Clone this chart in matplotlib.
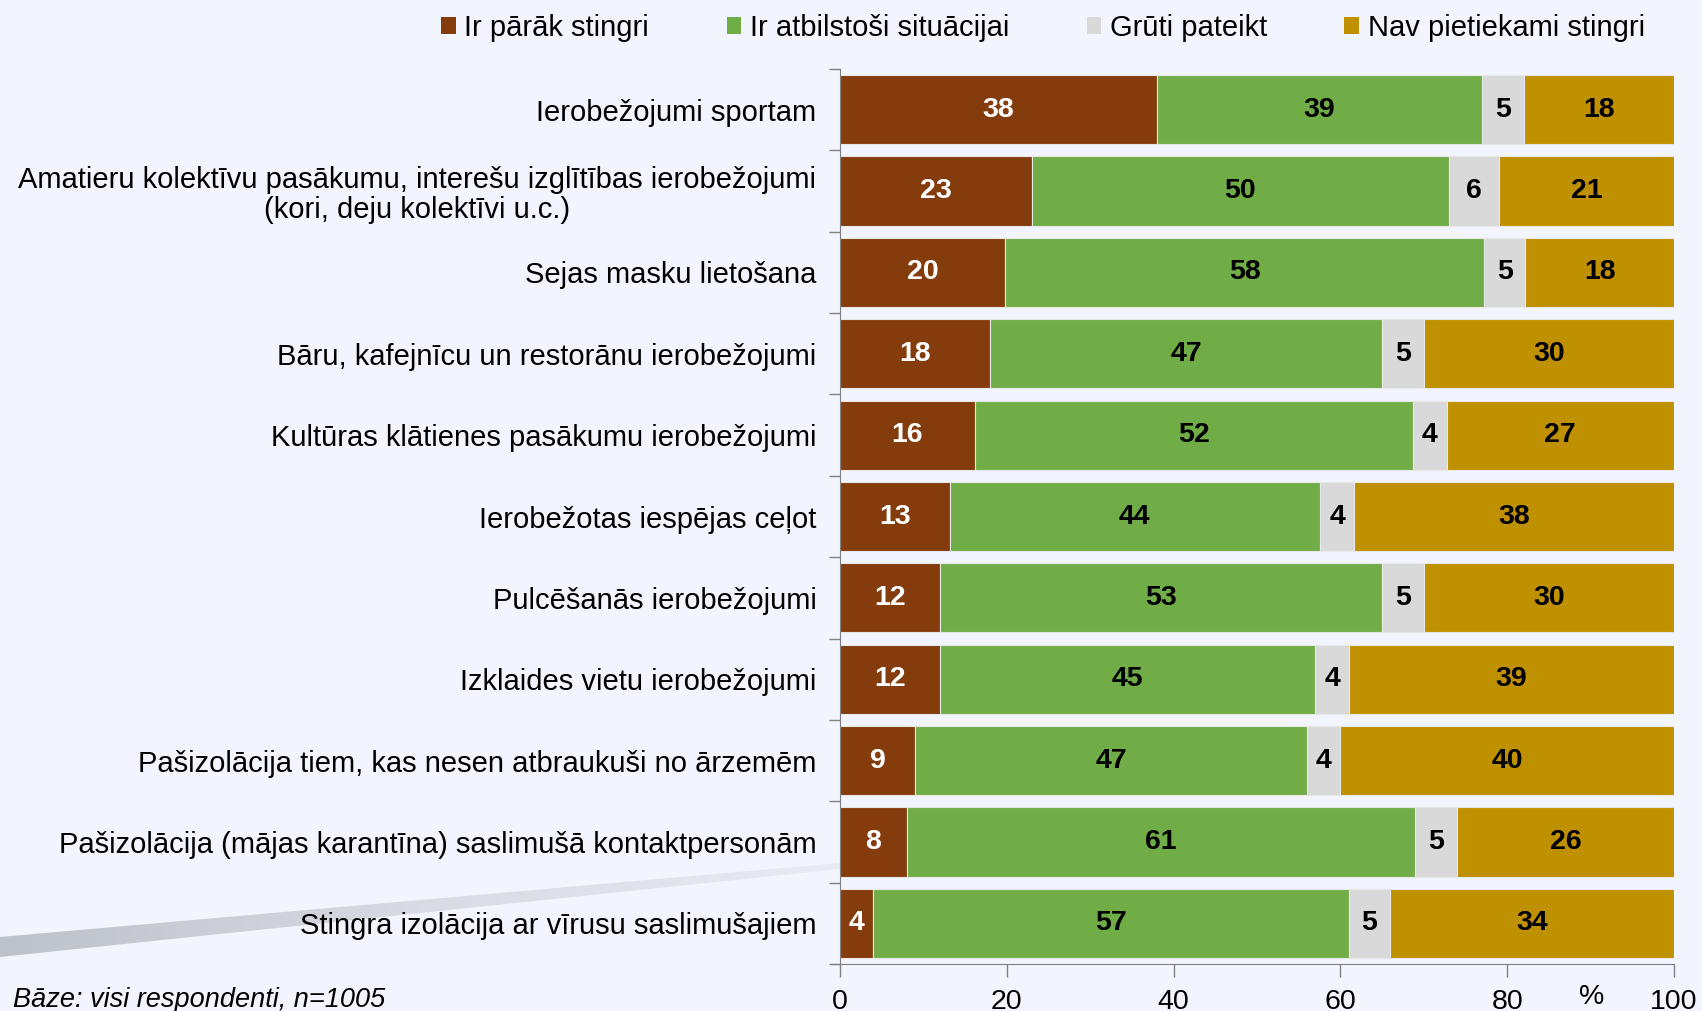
import numpy as np
import matplotlib
matplotlib.use("Agg")
import matplotlib.pyplot as plt
from matplotlib.patches import Rectangle, Polygon
from matplotlib.colors import LinearSegmentedColormap

plt.rcParams['font.family'] = ['Liberation Sans', 'DejaVu Sans']

categories = [
    "Ierobežojumi sportam",
    "Amatieru kolektīvu pasākumu, interešu izglītības ierobežojumi\n(kori, deju kolektīvi u.c.)",
    "Sejas masku lietošana",
    "Bāru, kafejnīcu un restorānu ierobežojumi",
    "Kultūras klātienes pasākumu ierobežojumi",
    "Ierobežotas iespējas ceļot",
    "Pulcēšanās ierobežojumi",
    "Izklaides vietu ierobežojumi",
    "Pašizolācija tiem, kas nesen atbraukuši no ārzemēm",
    "Pašizolācija (mājas karantīna) saslimušā kontaktpersonām",
    "Stingra izolācija ar vīrusu saslimušajiem",
]
too_strict = [38, 23, 20, 18, 16, 13, 12, 12, 9, 8, 4]
appropriate = [39, 50, 58, 47, 52, 44, 53, 45, 47, 61, 57]
hard_to_say = [5, 6, 5, 5, 4, 4, 5, 4, 4, 5, 5]
not_strict = [18, 21, 18, 30, 27, 38, 30, 39, 40, 26, 34]
series_names = ["Ir pārāk stingri", "Ir atbilstoši situācijai", "Grūti pateikt", "Nav pietiekami stingri"]
xticks = [0, 20, 40, 60, 80, 100]

colors = ["#843C0C", "#70AD47", "#D9D9D9", "#BF9000"]
text_colors = ["white", "black", "black", "black"]
bg = "#F2F5FE"

W, H = 1702, 1011
fig = plt.figure(figsize=(W / 100, H / 100), dpi=100)
fig.patch.set_facecolor(bg)

# decorative grey swoosh behind the labels
bgax = fig.add_axes([0, 0, 1, 1], zorder=0)
bgax.set_xlim(0, W)
bgax.set_ylim(H, 0)
bgax.axis("off")
grad = np.linspace(0, 1, 256).reshape(1, -1)
cm = LinearSegmentedColormap.from_list("sw", ["#BDC1C9", "#D8DBE3", "#E8EBF3"])
im = bgax.imshow(grad, cmap=cm, extent=[0, 840, 960, 860], aspect="auto")
poly = Polygon([[0, 937], [840, 863], [840, 869], [0, 957]], closed=True,
               facecolor="none", edgecolor="none", transform=bgax.transData)
bgax.add_patch(poly)
im.set_clip_path(poly)

ax = fig.add_axes([840 / W, 1 - 964 / H, (1674 - 840) / W, (964 - 69) / H], zorder=1)
ax.set_facecolor("none")

y = np.arange(len(categories))
data = np.array([too_strict, appropriate, hard_to_say, not_strict], dtype=float)
# 100% stacked: each row scaled to its total
shares = data / data.sum(axis=0) * 100
left = np.zeros(len(categories))
for vals, shr, c, tc, name in zip(data, shares, colors, text_colors, series_names):
    ax.barh(y, shr, left=left, height=0.85, color=c, edgecolor="#E8E8E8",
            linewidth=0.8, label=name)
    for yi, l, s, v in zip(y, left, shr, vals):
        ax.text(l + s / 2, yi, f"{int(v)}", ha="center", va="center",
                color=tc, fontsize=20.5, fontweight="bold")
    left += shr

ax.set_xlim(0, 100)
ax.set_ylim(len(categories) - 0.5, -0.5)
ax.set_yticks(y)
ax.set_yticklabels(categories, fontsize=21, multialignment="center", linespacing=1.1)
ax.set_yticks(np.arange(len(categories) + 1) - 0.5, minor=True)
ax.tick_params(axis="y", which="major", length=0, pad=17)
ax.tick_params(axis="y", which="minor", length=8, color="#808080", width=1)
ax.set_xticks(xticks)
ax.set_xticklabels([str(t) for t in xticks], fontsize=20.5)
ax.tick_params(axis="x", length=9, color="#808080", width=1, pad=9)
for s in ["top", "right"]:
    ax.spines[s].set_visible(False)
ax.spines["left"].set_color("#808080")
ax.spines["bottom"].set_color("#808080")
ax.spines["bottom"].set_bounds(-1.1, 100)

fig.text(1592 / W, 1 - 997 / H, "%", fontsize=20.5, ha="center", va="center")
fig.text(13 / W, 1 - 1000 / H, "Bāze: visi respondenti, n=1005", fontsize=19.5,
         style="italic", ha="left", va="center")

handles = [Rectangle((0, 0), 1, 1, facecolor=c, edgecolor="none") for c in colors]
fig.legend(handles, series_names, loc="center", bbox_to_anchor=(1043 / W, 1 - 28 / H),
           ncol=4, frameon=False, fontsize=21, handlelength=0.5, handleheight=0.5,
           handletextpad=0.3, columnspacing=2.65, borderaxespad=0)

fig.savefig("out.png", dpi=100, facecolor=bg)
